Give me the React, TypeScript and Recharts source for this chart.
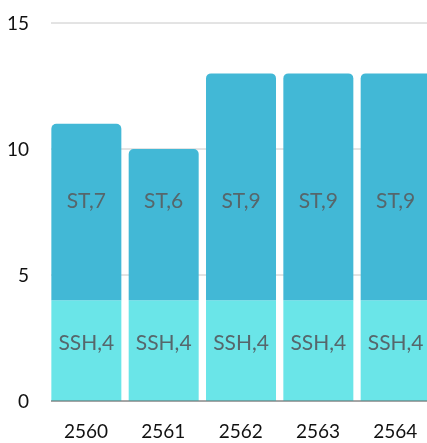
import React from "react";
import { BarChart, Bar, XAxis, YAxis, CartesianGrid, LabelList } from "recharts";

const years = ["2560", "2561", "2562", "2563", "2564"];
const sshValues = [4, 4, 4, 4, 4];
const stValues = [7, 6, 9, 9, 9];
const yTicks = [0, 5, 10, 15];

const data = years.map((y, i) => ({ year: y, SSH: sshValues[i], ST: stValues[i] }));

const FONT = "Lato, 'Open Sans', sans-serif";

export default function App() {
  return (
    <div style={{ position: "fixed", top: 8, left: 8, width: 419, height: 435, overflow: "hidden" }}>
      <BarChart
        width={426}
        height={435}
        data={data}
        margin={{ top: 15, right: 0, bottom: 0, left: 0 }}
      >
        <CartesianGrid vertical={false} stroke="#c8c8c8" />
        <XAxis
          dataKey="year"
          tickLine={false}
          tickSize={0}
          tickMargin={24}
          height={42}
          axisLine={{ stroke: "#666" }}
          padding={{ left: -3.65, right: 0 }}
          tick={{ fill: "#111", fontSize: 19, fontFamily: FONT }}
        />
        <YAxis
          width={43}
          domain={[0, 15]}
          ticks={yTicks}
          axisLine={false}
          tickLine={false}
          tickSize={0}
          tickMargin={22}
          tick={{ fill: "#111", fontSize: 19, fontFamily: FONT }}
        />
        <Bar dataKey="SSH" stackId="a" fill="#6ae5e8" barSize={70} isAnimationActive={false}>
          <LabelList
            dataKey="SSH"
            position="insideBottom"
            offset={51}
            formatter={(v: any) => `SSH,${v}`}
            style={{ fill: "#56666b", fontSize: 21, fontFamily: FONT, fontWeight: 400 }}
          />
        </Bar>
        <Bar dataKey="ST" stackId="a" fill="#42b8d6" barSize={70} radius={[5, 5, 0, 0]} isAnimationActive={false}>
          <LabelList
            dataKey="ST"
            position="insideBottom"
            offset={92}
            formatter={(v: any) => `ST,${v}`}
            style={{ fill: "#56666b", fontSize: 21, fontFamily: FONT, fontWeight: 400 }}
          />
        </Bar>
      </BarChart>
    </div>
  );
}
